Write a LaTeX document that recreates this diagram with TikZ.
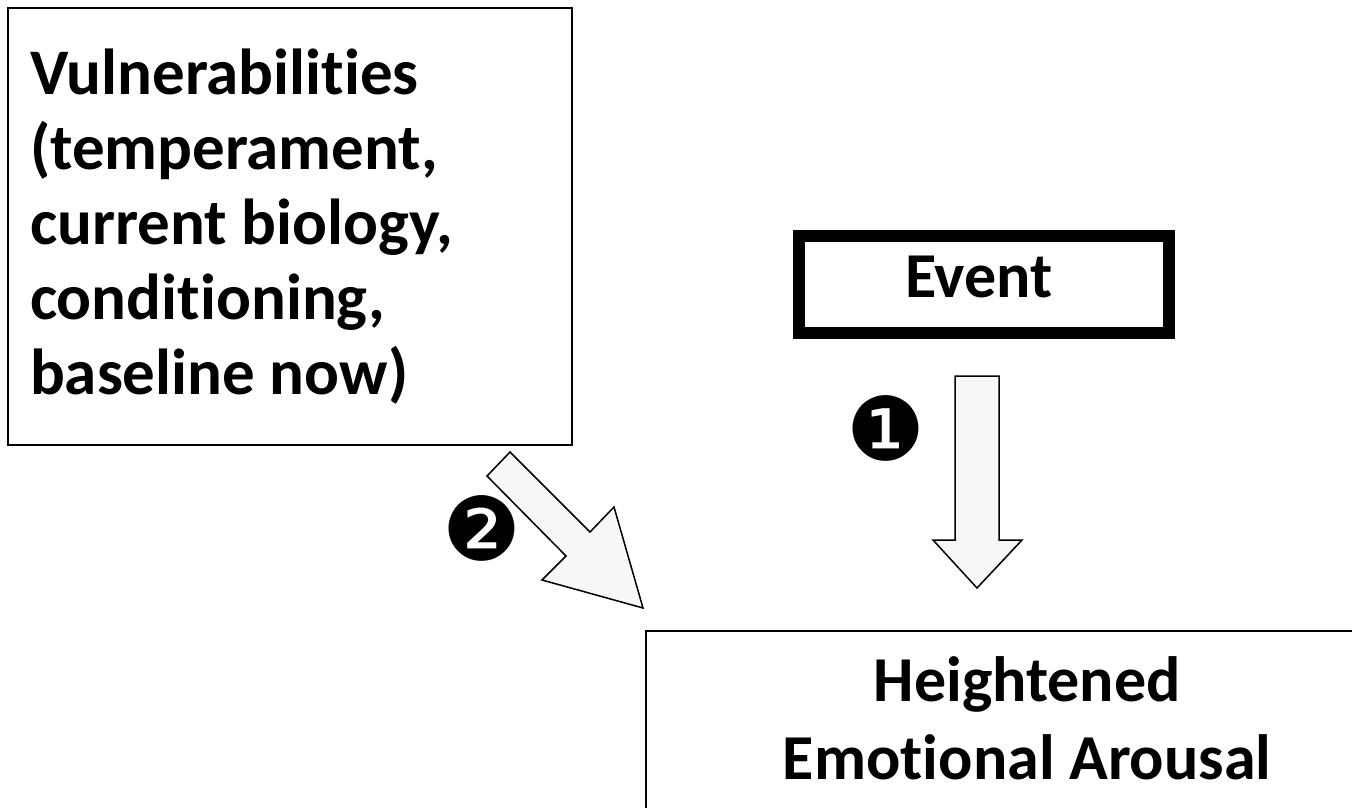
\documentclass[tikz,border=0pt]{standalone}
\usepackage{fontspec}
\setmainfont{Carlito}[Ligatures=NoCommon]
\newfontfamily\dejavu{DejaVu Sans}
\definecolor{arrowfill}{HTML}{F7F7F7}
\begin{document}
\begin{tikzpicture}[x=1pt,y=-1pt,
  thinbox/.style={draw=black, line width=2pt, rectangle, inner sep=0pt},
  evbox/.style={draw=black, line width=12pt, rectangle, inner sep=0pt},
  bigtext/.style={font=\bfseries\fontsize{64}{75}\selectfont},
  boxline/.style={draw=black, line width=2pt},
  blockarrow/.style={draw=black, line width=1.5pt, fill=arrowfill, line join=miter},
  num/.style={inner sep=0pt, font=\dejavu\fontsize{88}{88}\selectfont}]
\useasboundingbox (0,0) rectangle (1352,807);
\clip (0,0) rectangle (1352,807);
\fill[white] (0,0) rectangle (1352,807);
% Vulnerabilities box
\node[thinbox, anchor=north west, minimum width=564, minimum height=437,
      text width=520, inner xsep=22pt, font=\bfseries\fontsize{65}{75}\selectfont] (vul) at (7,7)
  {\raggedright\spaceskip=14.7pt\relax Vulnerabilities\\(temperament,\\current biology,\\conditioning,\\baseline now)\par\vspace{14pt}};
% Event box
\node[evbox, minimum width=370, minimum height=97, text height=45pt, text depth=20pt,
      bigtext] (event) at (984,284.5) {Event\hspace*{10pt}};
% Heightened Emotional Arousal box (runs past the right and bottom edges)
\node[rectangle, inner sep=0pt, anchor=north west, minimum width=762, minimum height=175,
      align=center, font=\bfseries\fontsize{64}{78}\selectfont] (arousal) at (646,631)
  {Heightened\\Emotional Arousal};
\draw[boxline] ([yshift=-20pt]arousal.south west) -- (arousal.north west)
  -- (arousal.north east) -- ([yshift=-20pt]arousal.south east);
% block arrows
\draw[blockarrow] (955,376) -- (999,376) -- (999,540) -- (1022,540) -- (977,588)
  -- (933,540) -- (955,540) -- cycle;
\draw[blockarrow] (510,452) -- (590,532) -- (614,507) -- (643,608) -- (542,580)
  -- (566,556) -- (487,476) -- cycle;
% numbers
\node[num] (n1) at (886,428) {❶};
\node[num] (n2) at (482,528) {❷};
\end{tikzpicture}
\end{document}
